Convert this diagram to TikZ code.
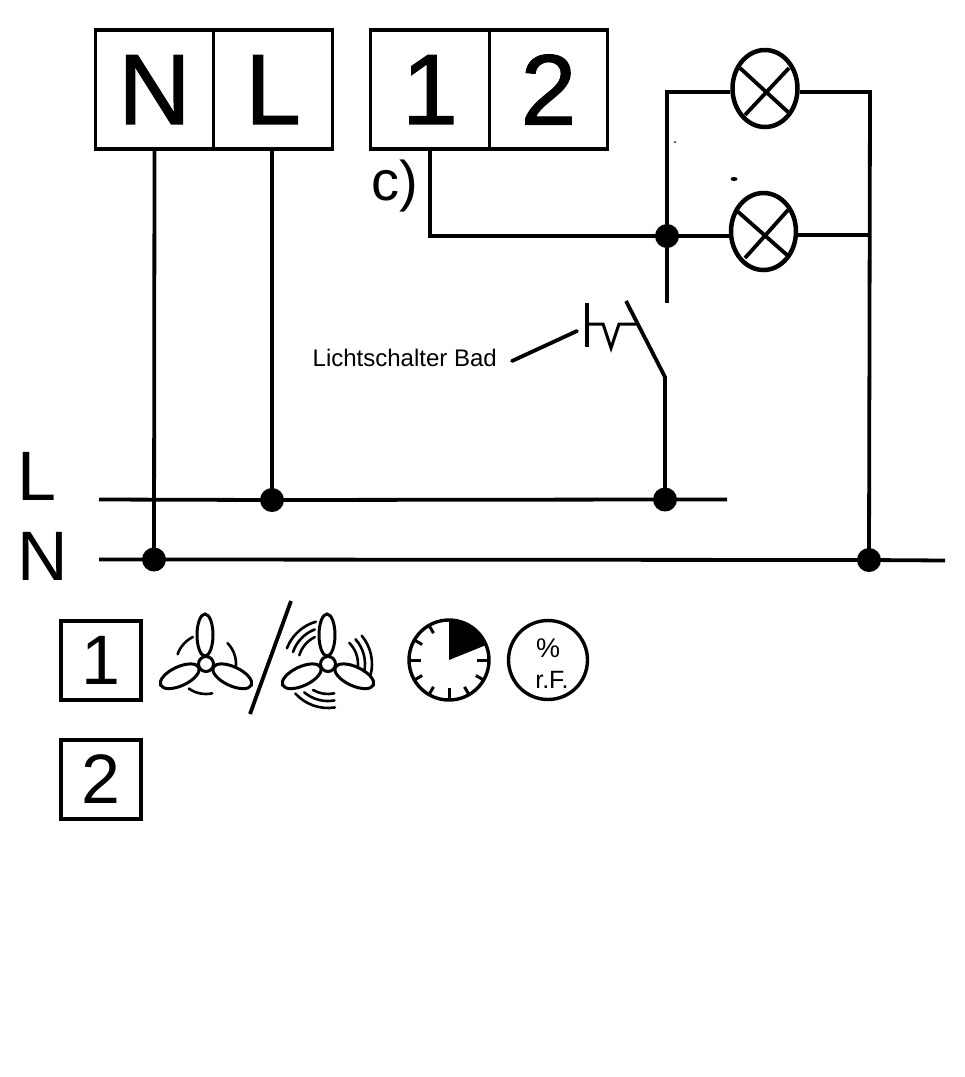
\documentclass[tikz,border=0pt]{standalone}
\usepackage{fontspec}
\setmainfont{Liberation Sans}
\newfontfamily\heavyfont[FakeBold=1.2]{Liberation Sans}
\usetikzlibrary{shapes.geometric}
\newcommand{\fs}[1]{\fontsize{#1}{#1}\selectfont}
\tikzset{
  wire/.style={line width=3.8pt,line cap=butt,line join=miter,draw=black},
  term/.style={draw=black,line width=3.4pt,rectangle,minimum width=118.5pt,minimum height=119pt,inner sep=0pt,font=\heavyfont\fs{100}},
  key/.style={draw=black,line width=3.6pt,rectangle,minimum width=80pt,minimum height=79pt,inner sep=0pt,font=\fs{70}},
  dot/.style={circle,fill=black,minimum size=24pt,inner sep=0pt},
  lamp/.style={ellipse,draw=black,line width=4.5pt,minimum width=65pt,minimum height=77pt,inner sep=0pt},
  lab/.style={inner sep=0pt,anchor=base west,text=black},
  thin icon/.style={line width=2.6pt,line cap=round,draw=black},
  icon/.style={line width=3pt,draw=black},
  speck/.style={ellipse,fill=black,inner sep=0pt}
}
\newcommand{\fanbody}[1]{%
  \draw[icon] (#1) ++(-1,-29) ellipse (8 and 21);
  \draw[icon,rotate around={25:(#1)}] (#1) ++(-29,0) ellipse (21 and 9.5);
  \draw[icon,rotate around={-25:(#1)}] (#1) ++(29,0) ellipse (21 and 9.5);
  \draw[icon,fill=white] (#1) circle (7.5);
}
\newcommand{\fanarc}[4]{\draw[thin icon] (#1) ++(-#2:#4) arc (-#2:-#3:#4);}
\begin{document}
\begin{tikzpicture}[x=1pt,y=-1pt]
\useasboundingbox (0,0) rectangle (965,1077);
\fill[white] (0,0) rectangle (965,1077);

% terminals
\node[term] (tN) at (154.5,89.5) {N};
\node[term] (tL) at (273,89.5) {L};
\node[term] (t1) at (430,89.5) {1};
\node[term] (t2) at (548.5,89.5) {2};

% bus ends and dots
\coordinate (Lstart) at (99,499.5);
\coordinate (Lend) at (727,499.5);
\coordinate (Nstart) at (99,559.5);
\coordinate (Nend) at (945,560.5);
\node[dot] (dL) at (272,500) {};
\node[dot] (dS) at (665,499.5) {};
\node[dot] (dN) at (154,559.5) {};
\node[dot] (dR) at (869,560) {};
\node[dot] (dJ) at (667,236) {};

% lamps
\node[lamp] (la) at (765,88.5) {};
\node[lamp] (lb) at (763.5,231.5) {};
\draw[line width=3.8pt] (740,68) -- (788,112) (789,68) -- (745,115);
\draw[line width=3.8pt] (736,210) -- (787,255) (788,210) -- (745,258);

% wiring
\draw[wire] (Lstart) -- (dL.center) -- (dS.center) -- (Lend);
\draw[wire] (Nstart) -- (dN.center) -- (dR.center) -- (Nend);
\draw[wire] (tN.south) -- (dN.center);
\draw[wire] (tL.south-|dL) -- (dL.center);
\coordinate (t1d) at (t1.south);
\coordinate (t1c) at (430,236);
\draw[wire] (t1d) -- (t1c) -- (dJ.center) -- (lb.west|-dJ);
\coordinate (pTop) at (667,92);
\coordinate (pBot) at (667,303);
\draw[wire] (la.west|-pTop) -- (pTop) -- (pBot);
\coordinate (rTop) at (870,92);
\draw[wire] (la.east|-rTop) -- (rTop) -- (dR.center);
\coordinate (rMid) at (869.5,235);
\draw[wire] (lb.east|-rMid) -- (rMid);

% switch
\coordinate (swHinge) at (665,377);
\coordinate (swTip) at (626,301);
\draw[wire,line join=round] (dS.center) -- (swHinge) -- (swTip);
\draw[line width=3.8pt] (587,303) -- (587,347);
\draw[line width=3pt,line join=miter] (587,324) -- (603,324) -- (611,348) -- (619,324) -- (637,324);
\coordinate (leadA) at (512,361);
\coordinate (leadB) at (577,331);
\draw[wire,line cap=round] (leadA) -- (leadB);

% specks
\node[speck,minimum width=7pt,minimum height=4pt] (sp1) at (734,179) {};
\node[speck,minimum width=3pt,minimum height=1.5pt] (sp2) at (675,142) {};

% labels
\node[lab,font=\fs{24}] (swl) at (312.5,366.5) {Lichtschalter Bad};
\node[lab,font=\fs{56}] (cl) at (371,200) {c)};
\node[lab,font=\fs{70}] (Ll) at (17,500) {L};
\node[lab,font=\fs{70}] (Nl) at (17,580) {N};

% legend
\node[key] (k1) at (101,660.5) {1};
\node[key] (k2) at (101,779.5) {2};

% fans
\coordinate (f1) at (206,664);
\coordinate (f2) at (328,664);
\fanbody{f1}
\fanarc{f1}{161}{116}{30}
\fanarc{f1}{44}{-6}{30}
\fanarc{f1}{235}{282}{30}
\fanbody{f2}
\foreach \r/\a/\b in {30/163/116,37/161/111,44/159/106}{\fanarc{f2}{\a}{\b}{\r}}
\foreach \r/\a/\b in {30/45/-8,37/42/-12,44/40/-15}{\fanarc{f2}{\a}{\b}{\r}}
\foreach \r/\a/\b in {30/240/282,37/230/280,44/222/279}{\fanarc{f2}{\a}{\b}{\r}}
\coordinate (slA) at (291,601);
\coordinate (slB) at (250,714);
\draw[wire] (slA) -- (slB);

% timer
\coordinate (tm) at (449,660);
\fill[black] (tm) -- ++(0,-40) arc (-90:-22:40) -- cycle;
\draw[line width=3.4pt] (tm) circle (40);
\foreach \a in {30,60,120,150,210,240,300,330}{\draw[line width=3pt] (tm) ++(\a:40) -- ++(\a+180:9);}
\foreach \a in {0,90,180}{\draw[line width=3pt] (tm) ++(\a:40) -- ++(\a+180:12);}

% humidity
\node[circle,draw=black,line width=3.4pt,minimum size=79pt,inner sep=0pt] (rh) at (548,660) {};
\node[inner sep=0pt,font=\fs{27},anchor=base] (pc) at (548,657) {\%};
\node[inner sep=0pt,font=\fs{25},anchor=base] (rf) at (552,688) {r.F.};
\end{tikzpicture}
\end{document}
